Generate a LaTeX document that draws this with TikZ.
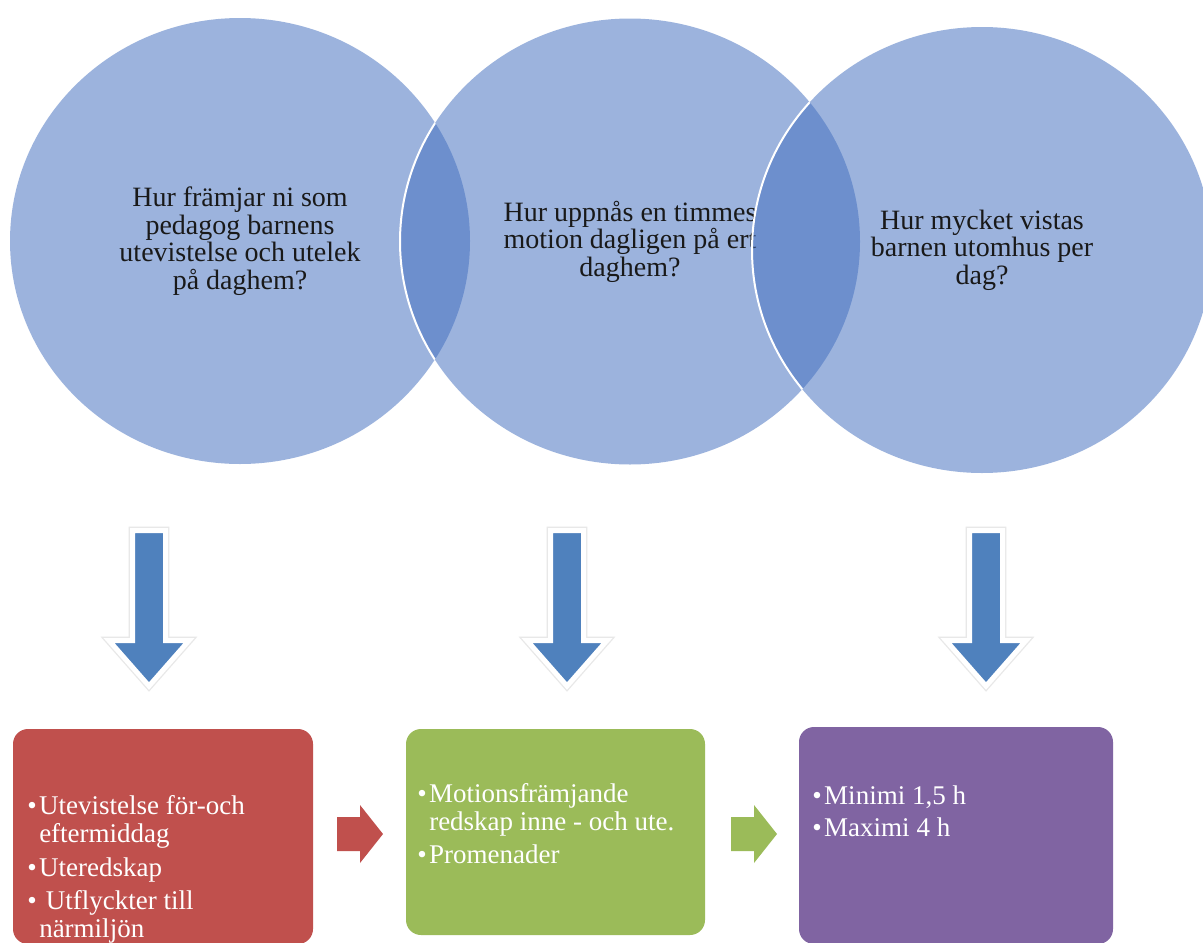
\documentclass[tikz,border=0pt]{standalone}
\usepackage{fontspec}
\setmainfont{Liberation Serif}
\usetikzlibrary{shapes.geometric}

\definecolor{vennblue}{RGB}{66,111,191}
\definecolor{arrowblue}{RGB}{79,129,189}
\definecolor{boxred}{RGB}{192,80,77}
\definecolor{boxgreen}{RGB}{155,187,89}
\definecolor{boxpurple}{RGB}{128,100,162}

\newcommand{\punkt}{\textbullet\hspace{1.2pt}}

\tikzset{
	venn/.style={ellipse, minimum width=230pt, minimum height=223pt, inner sep=0pt, outer sep=0pt,
		fill=vennblue, fill opacity=0.52, text opacity=1, text=black!90, align=center,
		font=\fontsize{14}{13.8}\selectfont},
	rutan/.style={rectangle, rounded corners=7.5pt, inner sep=0pt, outer sep=0pt},
	rutext/.style={anchor=north west, inner sep=0pt, align=left, text=white,
		font=\fontsize{13.5}{13.9}\selectfont},
	nedpil/.style={fill=arrowblue, draw=white, line width=2.5pt, line join=miter},
	nedskugga/.style={draw=black!9, line width=3.8pt},
}

\begin{document}
\begin{tikzpicture}[x=0.5pt, y=-0.5pt]
	\useasboundingbox[fill=white] (0,0) rectangle (1203,942);

	% de tre fragorna
	\node[venn] (q1) at (240,241) {Hur främjar ni som\\pedagog barnens\\utevistelse och utelek\\på daghem?};
	\node[venn] (q2) at (630,241.5) {Hur uppnås en timmes\\motion dagligen på ert\\daghem?};
	\node[venn] (q3) at (982,250) {Hur mycket vistas\\barnen utomhus per\\dag?};
	\begin{scope}
		\clip (q1.center) ellipse [x radius=115pt, y radius=111.5pt];
		\draw[white, line width=1pt] (q2.center) ellipse [x radius=115pt, y radius=111.5pt];
	\end{scope}
	\begin{scope}
		\clip (q2.center) ellipse [x radius=115pt, y radius=111.5pt];
		\draw[white, line width=1pt] (q3.center) ellipse [x radius=115pt, y radius=111.5pt];
	\end{scope}

	% pilar nedat
	\foreach \x in {149,567,986} {
		\draw[nedskugga] ({\x-16.5},530.5) -- ({\x+16.5},530.5) -- ({\x+16.5},640.5) -- ({\x+40},640.5)
			-- (\x,686) -- ({\x-40},640.5) -- ({\x-16.5},640.5) -- cycle;
		\draw[nedpil] ({\x-16.5},530.5) -- ({\x+16.5},530.5) -- ({\x+16.5},640.5) -- ({\x+40},640.5)
			-- (\x,686) -- ({\x-40},640.5) -- ({\x-16.5},640.5) -- cycle;
	}

	% svaren
	\node[rutan, fill=boxred, minimum width=150pt, minimum height=107.5pt] (svar1) at (163,836.5) {};
	\node[rutan, fill=boxgreen, minimum width=149.5pt, minimum height=103pt] (svar2) at (555.5,832) {};
	\node[rutan, fill=boxpurple, minimum width=157pt, minimum height=108.5pt] (svar3) at (956,835.5) {};

	\node[rutext] (t1) at (27,795) {\punkt Utevistelse för-och\\
		\hphantom{\punkt}eftermiddag\\[3pt]
		\punkt Uteredskap\\[3pt]
		\punkt\ Utflyckter till\\
		\hphantom{\punkt}närmiljön};
	\node[rutext] (t2) at (417,783) {\punkt Motionsfrämjande\\
		\hphantom{\punkt}redskap inne - och ute.\\[2.5pt]
		\punkt Promenader};
	\node[rutext] (t3) at (812,785) {\punkt Minimi 1,5 h\\[2.5pt]
		\punkt Maximi 4 h};

	% pilar mellan rutorna
	\foreach \x/\c in {337/boxred, 731/boxgreen}
		\fill[\c] (\x,817) -- ({\x+23},817) -- ({\x+23},805) -- ({\x+46},834)
			-- ({\x+23},863) -- ({\x+23},851) -- (\x,851) -- cycle;
\end{tikzpicture}
\end{document}
